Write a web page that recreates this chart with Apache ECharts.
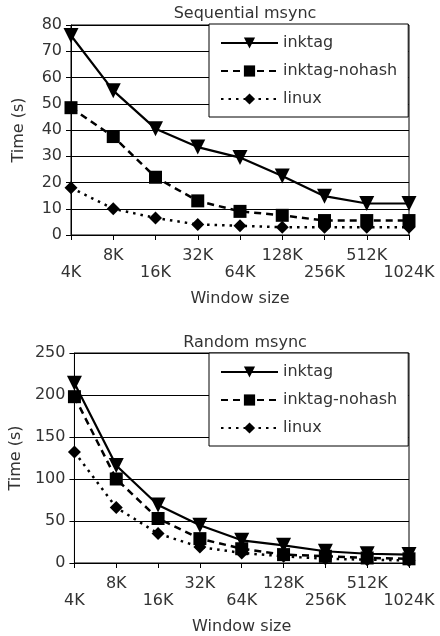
<!DOCTYPE html>
<html>
<head>
<meta charset="utf-8">
<script src="https://cdn.jsdelivr.net/npm/echarts@6/dist/echarts.min.js"></script>
<style>
  html, body { margin: 0; padding: 0; background: #fff; }
  #chart { width: 440px; height: 636px; }
</style>
</head>
<body>
<div id="chart"></div>
<script>
const windowSizes = ['4K', '8K', '16K', '32K', '64K', '128K', '256K', '512K', '1024K'];

// Sequential msync (s)
const seqInktag = [76, 55, 40.5, 33.5, 29.5, 22.5, 14.8, 12, 12];
const seqNohash = [48.5, 37.5, 22, 13, 9, 7.5, 5.5, 5.5, 5.5];
const seqLinux = [18, 10, 6.5, 4, 3.5, 3, 3, 3, 3];

// Random msync (s)
const rndInktag = [214, 116, 69, 45, 27, 21, 14, 11, 10];
const rndNohash = [198, 100, 53, 29, 17, 10, 8, 6, 5];
const rndLinux = [132, 66, 35, 19, 12, 8, 5, 4, 3];

const textColor = '#333';
const font = 'DejaVu Sans, sans-serif';
const fs = 16;

const styles = {
  inktag: { symbol: 'triangle', symbolRotate: 180, symbolSize: 15, line: { type: 'solid', width: 2.2 } },
  'inktag-nohash': { symbol: 'rect', symbolRotate: 0, symbolSize: 13, line: { type: [7, 5], width: 2.5 } },
  linux: { symbol: 'diamond', symbolRotate: 0, symbolSize: 13, line: { type: [2.5, 5], width: 2.5 } }
};

function mkSeries(name, data, idx) {
  const s = styles[name];
  return {
    name: name,
    type: 'line',
    xAxisIndex: idx,
    yAxisIndex: idx,
    data: data,
    symbol: s.symbol,
    symbolRotate: s.symbolRotate,
    symbolSize: s.symbolSize,
    lineStyle: { color: '#000', type: s.line.type, width: s.line.width },
    itemStyle: { color: '#000' },
    animation: false
  };
}

function xAxis(idx) {
  return {
    type: 'category',
    gridIndex: idx,
    data: windowSizes,
    boundaryGap: false,
    name: 'Window size',
    nameLocation: 'middle',
    nameGap: 56,
    nameTextStyle: { color: textColor, fontSize: fs, fontFamily: font },
    axisLine: { lineStyle: { color: '#000', width: 1 } },
    axisTick: { show: true, length: 5, lineStyle: { color: '#000' } },
    axisLabel: {
      interval: 0,
      margin: 12,
      color: textColor,
      fontSize: fs,
      fontFamily: font,
      lineHeight: 17,
      formatter: function (v, i) { return i % 2 === 0 ? '\n' + v : v; }
    },
    splitLine: { show: false }
  };
}

function yAxis(idx, max, interval) {
  return {
    type: 'value',
    gridIndex: idx,
    min: 0,
    max: max,
    interval: interval,
    name: 'Time (s)',
    nameLocation: 'middle',
    nameGap: 44,
    nameTextStyle: { color: textColor, fontSize: fs, fontFamily: font },
    axisLine: { show: true, lineStyle: { color: '#000', width: 1 } },
    axisTick: { show: true, length: 5, lineStyle: { color: '#000' } },
    axisLabel: { margin: 9, color: textColor, fontSize: fs, fontFamily: font },
    splitLine: { show: true, lineStyle: { color: '#000', width: 1 } }
  };
}

function legend(top) {
  return {
    data: ['inktag', 'inktag-nohash', 'linux'],
    left: 209,
    top: top,
    orient: 'vertical',
    backgroundColor: '#fff',
    borderColor: '#000',
    borderWidth: 1,
    padding: [11, 11, 10, 11],
    itemGap: 12,
    itemWidth: 57,
    itemHeight: 14,
    textStyle: { color: textColor, fontSize: fs, fontFamily: font },
    inactiveColor: '#000'
  };
}

const chart = echarts.init(document.getElementById('chart'));
chart.setOption({
  backgroundColor: '#fff',
  animation: false,
  title: [
    { text: 'Sequential msync', left: 240, top: 1, textAlign: 'center',
      textStyle: { color: textColor, fontSize: fs, fontWeight: 'normal', fontFamily: font } },
    { text: 'Random msync', left: 240, top: 330, textAlign: 'center',
      textStyle: { color: textColor, fontSize: fs, fontWeight: 'normal', fontFamily: font } }
  ],
  legend: [legend(24), legend(353)],
  grid: [
    { left: 71, right: 31, top: 25, height: 210, show: true, borderColor: '#000', borderWidth: 1 },
    { left: 71, right: 31, top: 353, height: 211, show: true, borderColor: '#000', borderWidth: 1 }
  ],
  xAxis: [xAxis(0), xAxis(1)],
  yAxis: [yAxis(0, 80, 10), yAxis(1, 250, 50)],
  series: [
    mkSeries('inktag', seqInktag, 0),
    mkSeries('inktag-nohash', seqNohash, 0),
    mkSeries('linux', seqLinux, 0),
    mkSeries('inktag', rndInktag, 1),
    mkSeries('inktag-nohash', rndNohash, 1),
    mkSeries('linux', rndLinux, 1)
  ]
});
</script>
</body>
</html>
